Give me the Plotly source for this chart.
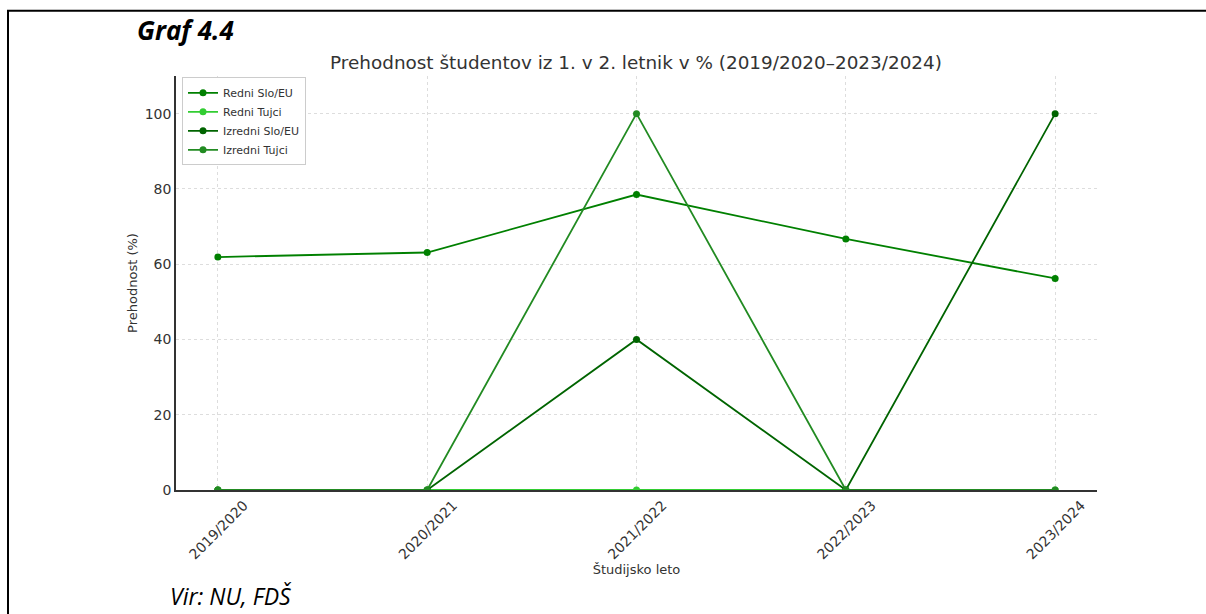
import plotly.graph_objects as go

categories = ["2019/2020", "2020/2021", "2021/2022", "2022/2023", "2023/2024"]
redni_slo_eu = [61.9, 63.1, 78.5, 66.7, 56.2]
redni_tujci = [0, 0, 0, 0, 0]
izredni_slo_eu = [0, 0, 40, 0, 100]
izredni_tujci = [0, 0, 100, 0, 0]
y_ticks = [0, 20, 40, 60, 80, 100]

series = [
    ("Redni Slo/EU", redni_slo_eu, "#008000"),
    ("Redni Tujci", redni_tujci, "#32CD32"),
    ("Izredni Slo/EU", izredni_slo_eu, "#006400"),
    ("Izredni Tujci", izredni_tujci, "#228B22"),
]

W, H = 1206, 614
L, R, T, B = 176, 1097, 75.7, 489.6
PW, PH = R - L, B - T


def px(x):
    return (x - L) / PW


def py(y):
    return (B - y) / PH


fig = go.Figure()
for name, vals, col in series:
    fig.add_trace(go.Scatter(
        x=categories, y=vals, name=name, mode="lines+markers",
        line=dict(color=col, width=1.8),
        marker=dict(color=col, size=7),
    ))

font_main = "DejaVu Sans"
fig.update_layout(
    width=W, height=H,
    margin=dict(l=L, r=W - R, t=T, b=H - B),
    paper_bgcolor="white", plot_bgcolor="white",
    font=dict(family=font_main, size=13, color="#333333"),
    title=dict(
        text="Prehodnost študentov iz 1. v 2. letnik v % (2019/2020–2023/2024)",
        x=px(636), xref="paper", xanchor="center",
        y=1 - 63 / H, yref="container", yanchor="middle",
        font=dict(family=font_main, size=18.4, color="#333333"),
    ),
    showlegend=True,
    legend=dict(
        x=px(182), y=py(77), xanchor="left", yanchor="top",
        bgcolor="white", bordercolor="#cccccc", borderwidth=1,
        font=dict(family=font_main, size=11, color="#333333"),
        itemwidth=30, tracegroupgap=0,
    ),
    xaxis=dict(
        type="category", range=[-0.2, 4.2],
        showline=True, linecolor="#333333", linewidth=1.5,
        showgrid=True, gridcolor="#dddddd", griddash="3px,3px", gridwidth=1,
        tickangle=-45, tickfont=dict(size=14, color="#333333"),
        ticklabelshift=26, ticklabelstandoff=0,
        ticks="", zeroline=False,
        title=dict(text="Študijsko leto", font=dict(size=13, color="#333333"), standoff=2),
        automargin=False,
    ),
    yaxis=dict(
        range=[0, 110], tickvals=y_ticks,
        showline=True, linecolor="#333333", linewidth=1.5,
        showgrid=True, gridcolor="#dddddd", griddash="3px,3px", gridwidth=1,
        tickfont=dict(size=14, color="#333333"),
        ticks="", zeroline=False,
        title=dict(text="Prehodnost (%)", font=dict(size=13, color="#333333"), standoff=4),
        automargin=False,
    ),
    shapes=[
        dict(type="line", xref="paper", yref="paper",
             x0=px(8), x1=px(8), y0=py(10.5), y1=py(620),
             line=dict(color="black", width=2)),
        dict(type="line", xref="paper", yref="paper",
             x0=px(7), x1=px(1215), y0=py(10.5), y1=py(10.5),
             line=dict(color="black", width=2)),
    ],
    annotations=[
        dict(text="<b><i>Graf 4.4</i></b>", xref="paper", yref="paper",
             x=px(186), y=py(30), xanchor="center", yanchor="middle",
             showarrow=False, font=dict(family="Open Sans", size=26, color="black")),
        dict(text="<i>Vir: NU, FDŠ</i>", xref="paper", yref="paper",
             x=px(168), y=py(596), xanchor="left", yanchor="middle",
             showarrow=False, font=dict(family="Open Sans", size=23, color="black")),
    ],
)

fig.write_html(
    "out.html",
    config={"displayModeBar": False},
    post_script="document.body.style.margin='0';document.body.style.overflow='hidden';",
)
